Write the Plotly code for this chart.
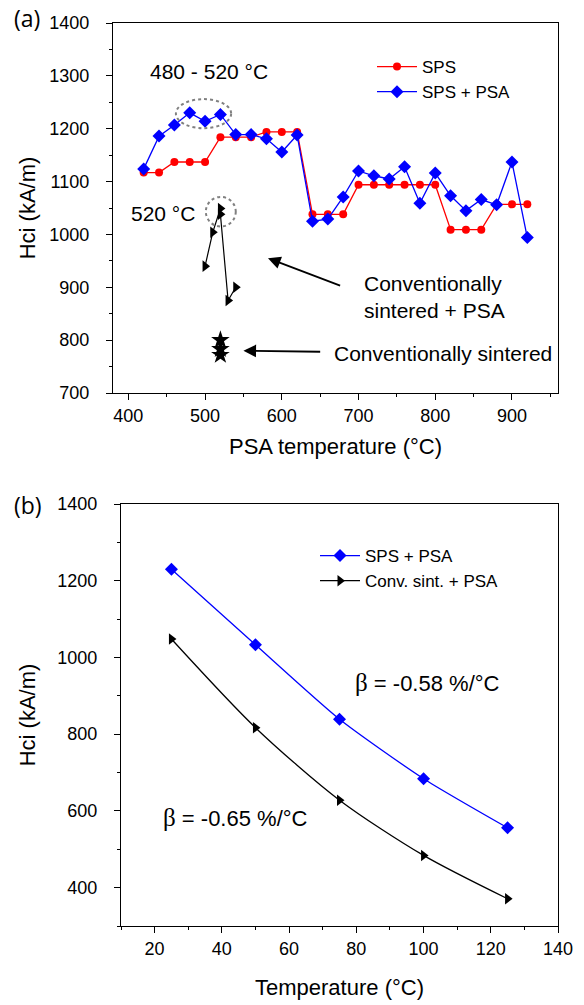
import plotly.graph_objects as go

# ---------------- Panel (a) data ----------------
psa_temp = [420, 440, 460, 480, 500, 520, 540, 560, 580, 600, 620, 640, 660,
            680, 700, 720, 740, 760, 780, 800, 820, 840, 860, 880, 900, 920]
sps_hci = [1117, 1117, 1137, 1137, 1137, 1184, 1184, 1184, 1194, 1194, 1194,
           1038, 1038, 1038, 1094, 1094, 1094, 1094, 1094, 1094, 1009, 1009,
           1009, 1057, 1057, 1057]
sps_psa_hci = [1124, 1186, 1207, 1230, 1214, 1227, 1189, 1189, 1181, 1156, 1188,
               1025, 1029, 1071, 1120, 1111, 1105, 1128, 1059, 1116, 1073, 1045,
               1066, 1056, 1137, 994]
conv_psa_temp = [500, 510, 520, 520, 530, 540]
conv_psa_hci = [940, 1004, 1049, 1038, 875, 900]
conv_temp = [520, 520, 520]
conv_hci = [800, 783, 772]

# ---------------- Panel (b) data ----------------
meas_temp = [25, 50, 75, 100, 125]
sps_psa_t = [1230, 1033, 839, 684, 556]
conv_psa_t = [1048, 817, 628, 484, 371]

FONT = "Liberation Sans, Arial, sans-serif"
RED = "#ff0000"
BLUE = "#0000ff"

fig = go.Figure()

# Panel (a)
fig.add_trace(go.Scatter(x=psa_temp, y=sps_hci, mode="lines+markers", name="SPS",
                         line=dict(color=RED, width=1.3),
                         marker=dict(symbol="circle", size=8, color=RED),
                         xaxis="x", yaxis="y", legend="legend"))
fig.add_trace(go.Scatter(x=psa_temp, y=sps_psa_hci, mode="lines+markers", name="SPS + PSA",
                         line=dict(color=BLUE, width=1.3),
                         marker=dict(symbol="diamond", size=10, color=BLUE),
                         xaxis="x", yaxis="y", legend="legend"))
fig.add_trace(go.Scatter(x=conv_psa_temp, y=conv_psa_hci, mode="lines+markers",
                         name="Conventionally sintered + PSA", showlegend=False,
                         line=dict(color="black", width=1.2),
                         marker=dict(symbol="triangle-right", size=10, color="black"),
                         xaxis="x", yaxis="y"))
fig.add_trace(go.Scatter(x=conv_temp, y=conv_hci, mode="markers",
                         name="Conventionally sintered", showlegend=False,
                         marker=dict(symbol="star", size=14, color="black"),
                         xaxis="x", yaxis="y"))

# Panel (b)
fig.add_trace(go.Scatter(x=meas_temp, y=sps_psa_t, mode="lines+markers", name="SPS + PSA",
                         line=dict(color=BLUE, width=1.3, shape="spline", smoothing=0.6),
                         marker=dict(symbol="diamond", size=10, color=BLUE),
                         xaxis="x2", yaxis="y2", legend="legend2"))
fig.add_trace(go.Scatter(x=meas_temp, y=conv_psa_t, mode="lines+markers", name="Conv. sint. + PSA",
                         line=dict(color="black", width=1.3, shape="spline", smoothing=0.8),
                         marker=dict(symbol="triangle-right", size=10, color="black"),
                         xaxis="x2", yaxis="y2", legend="legend2"))

W, H = 584, 1005
def xd(a, b):
    return [a / W, b / W]
def yd(top, bottom):
    return [1 - bottom / H, 1 - top / H]

tickfont = dict(family=FONT, size=18, color="black")
titlefont = dict(family=FONT, size=22, color="black")

def base_axis(rng, dtick, mdtick, dom, anchor, title=None, standoff=None, lblgap=0):
    d = dict(range=rng, dtick=dtick, domain=dom, anchor=anchor, automargin=False,
             showgrid=False, zeroline=False, showline=True, linecolor="black",
             linewidth=1.3, mirror=True, ticks="outside", ticklen=6, tickwidth=1.2,
             tickcolor="black", tickfont=tickfont, ticklabelstandoff=lblgap,
             minor=dict(dtick=mdtick, ticks="outside", ticklen=3, tickcolor="black",
                        tickwidth=1, showgrid=False))
    if title:
        d["title"] = dict(text=title, font=titlefont, standoff=standoff)
    return d

def mirror_axis(rng, dtick, mdtick, overlay, anchor, side):
    return dict(range=rng, dtick=dtick, overlaying=overlay, anchor=anchor, side=side,
                automargin=False,
                showgrid=False, zeroline=False, showline=False, showticklabels=False,
                ticks="inside", ticklen=6, tickwidth=1.2, tickcolor="black",
                minor=dict(dtick=mdtick, ticks="inside", ticklen=3, tickcolor="black",
                           tickwidth=1, showgrid=False))

xa_rng = [380, 960]
ya_rng = [700, 1400]
xb_rng = [10, 140]
yb_rng = [300, 1400]

fig.update_layout(
    width=W, height=H, margin=dict(l=0, r=0, t=0, b=0, autoexpand=False),
    paper_bgcolor="white", plot_bgcolor="white",
    font=dict(family=FONT, color="black"),
    xaxis=base_axis(xa_rng, 100, 50, xd(113, 558), "y", "PSA temperature (°C)", 13),
    yaxis=base_axis(ya_rng, 100, 50, yd(23, 393), "x", "Hci (kA/m)", 7, 13),
    xaxis3=mirror_axis(xa_rng, 100, 50, "x", "y", "top"),
    yaxis3=mirror_axis(ya_rng, 100, 50, "y", "x", "right"),
    xaxis2=base_axis(xb_rng, 20, 10, xd(121, 558), "y2", "Temperature (°C)", 21),
    yaxis2=base_axis(yb_rng, 200, 100, yd(504, 926), "x2", "Hci (kA/m)", 15, 13),
    xaxis4=mirror_axis(xb_rng, 20, 10, "x2", "y2", "top"),
    yaxis4=mirror_axis(yb_rng, 200, 100, "y2", "x2", "right"),
    legend=dict(x=372 / W, y=1 - 49 / H, xanchor="left", yanchor="top",
                bgcolor="rgba(0,0,0,0)", font=dict(family=FONT, size=17),
                tracegroupgap=0, itemwidth=40),
    legend2=dict(x=315 / W, y=1 - 538 / H, xanchor="left", yanchor="top",
                 bgcolor="rgba(0,0,0,0)", font=dict(family=FONT, size=17),
                 tracegroupgap=0, itemwidth=40),
    showlegend=True,
)

annfont = dict(family=FONT, size=21, color="black")
betafont = dict(family=FONT, size=22, color="black")
BETA = "<span style='font-family:Liberation Serif, Times New Roman, serif;font-size:25px'>β</span>"
annotations = [
    dict(text="(a)", xref="paper", yref="paper", x=12 / W, y=1 - 18 / H,
         xanchor="left", yanchor="middle", showarrow=False,
         font=dict(family="Open Sans, Noto Sans, sans-serif", size=23, color="black")),
    dict(text="(b)", xref="paper", yref="paper", x=12 / W, y=1 - 505 / H,
         xanchor="left", yanchor="middle", showarrow=False,
         font=dict(family="Open Sans, Noto Sans, sans-serif", size=23, color="black")),
    dict(text="480 - 520 °C", xref="x", yref="y", x=505, y=1309, showarrow=False,
         font=annfont),
    dict(text="520 °C", xref="x", yref="y", x=445, y=1040, showarrow=False,
         font=annfont),
    dict(text="Conventionally<br>sintered + PSA", xref="x", yref="y", x=704, y=882,
         xanchor="left", align="left", showarrow=False, font=annfont),
    dict(text="Conventionally sintered", xref="x", yref="y", x=666, y=774,
         xanchor="left", showarrow=False, font=annfont),
    dict(text="", xref="x", yref="y", x=582, y=955, axref="x", ayref="y", ax=678, ay=902,
         showarrow=True, arrowhead=2, arrowsize=1.4, arrowwidth=1.8, arrowcolor="black"),
    dict(text="", xref="x", yref="y", x=550, y=780, axref="x", ayref="y", ax=652, ay=778,
         showarrow=True, arrowhead=2, arrowsize=1.4, arrowwidth=1.8, arrowcolor="black"),
    dict(text=BETA + " = -0.58 %/°C",
         xref="x2", yref="y2", x=79, y=934, xanchor="left", showarrow=False, font=betafont),
    dict(text=BETA + " = -0.65 %/°C",
         xref="x2", yref="y2", x=22, y=582, xanchor="left", showarrow=False, font=betafont),
]
fig.update_layout(annotations=annotations)

shapes = [
    dict(type="circle", xref="x", yref="y", x0=462, x1=534, y0=1201, y1=1256,
         line=dict(color="gray", width=2, dash="dot")),
    dict(type="circle", xref="x", yref="y", x0=501, x1=540, y0=1015, y1=1071,
         line=dict(color="gray", width=2, dash="dot")),
]
fig.update_layout(shapes=shapes)

fig.write_html("out.html", config={"displayModeBar": False},
               post_script="document.body.style.margin='0';document.body.style.padding='0';")
